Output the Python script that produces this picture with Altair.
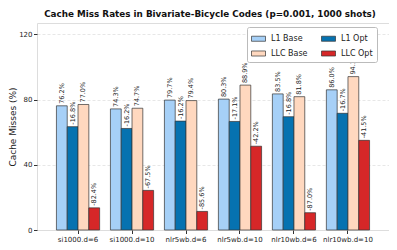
import altair as alt
import pandas as pd

benchmarks = ["si1000,d=6", "si1000,d=10", "nlr5wb,d=6", "nlr5wb,d=10", "nlr10wb,d=6", "nlr10wb,d=10"]
l1_base = [76.2, 74.3, 79.7, 80.3, 83.5, 86.0]
l1_opt = [63.4, 62.3, 66.8, 66.6, 69.5, 71.6]
llc_base = [77.0, 74.7, 79.4, 88.9, 81.8, 94.1]
llc_opt = [13.6, 24.3, 11.4, 51.4, 10.6, 55.0]
l1_change = [-16.8, -16.2, -16.2, -17.1, -16.8, -16.7]
llc_change = [-82.4, -67.5, -85.6, -42.2, -87.0, -41.5]

series_order = ["L1 Base", "L1 Opt", "LLC Base", "LLC Opt"]
legend_order = ["L1 Base", "LLC Base", "L1 Opt", "LLC Opt"]
colors = {"L1 Base": "#a6d0f7", "L1 Opt": "#0672b0", "LLC Base": "#ffd8bf", "LLC Opt": "#d62728"}

rows = []
for i, b in enumerate(benchmarks):
    rows.append({"bench": b, "series": "L1 Base", "value": l1_base[i], "label": f"{l1_base[i]:.1f}%"})
    rows.append({"bench": b, "series": "L1 Opt", "value": l1_opt[i], "label": f"{l1_change[i]:.1f}%"})
    rows.append({"bench": b, "series": "LLC Base", "value": llc_base[i], "label": f"{llc_base[i]:.1f}%"})
    rows.append({"bench": b, "series": "LLC Opt", "value": llc_opt[i], "label": f"{llc_change[i]:.1f}%"})
df = pd.DataFrame(rows)

x = alt.X("bench:N", sort=benchmarks, title=None,
          scale=alt.Scale(paddingInner=0.2, paddingOuter=0.36),
          axis=alt.Axis(labelAngle=0, labelFontSize=7, labelColor="#222", tickSize=3.5,
                        tickColor="#333", domain=False, labelPadding=1.5))
xo = alt.XOffset("series:N", sort=series_order, scale=alt.Scale(domain=series_order))
y = alt.Y("value:Q", title="Cache Misses (%)",
          scale=alt.Scale(domain=[0, 127], nice=False),
          axis=alt.Axis(values=[0, 20, 40, 60, 80, 100, 120], labelFontSize=7, labelColor="#222",
                        labelPadding=1.5,
                        titleFontSize=9, titleFontWeight="normal", titleColor="#222",
                        titlePadding=1, tickSize=3.5, tickColor="#333", domain=False,
                        grid=True, gridDash=[3, 2], gridColor="#dddddd", gridWidth=0.7))

bars = alt.Chart(df).mark_bar(stroke="#333333", strokeWidth=0.7).encode(
    x=x, xOffset=xo, y=y,
    color=alt.Color("series:N",
                    scale=alt.Scale(domain=legend_order, range=[colors[s] for s in legend_order]),
                    legend=alt.Legend(title=None, orient="none", legendX=210, legendY=4,
                                      columns=2, columnPadding=12, rowPadding=3,
                                      labelFontSize=8, labelColor="#222",
                                      symbolType="M-1,-0.36H1V0.36H-1Z", symbolSize=196,
                                      symbolStrokeColor="#333", symbolStrokeWidth=0.7,
                                      fillColor="white", strokeColor="#bbbbbb", padding=4,
                                      cornerRadius=2, labelOffset=5)),
)

labels = alt.Chart(df).mark_text(angle=270, align="left", baseline="middle", dx=2,
                                 fontSize=6.5, color="#222").encode(
    x=alt.X("bench:N", sort=benchmarks), xOffset=xo, y="value:Q", text="label:N"
)

chart = alt.layer(bars, labels).properties(
    width=352, height=207,
    title=alt.TitleParams("Cache Miss Rates in Bivariate-Bicycle Codes (p=0.001, 1000 shots)",
                          fontSize=8.8, fontWeight="bold", color="#111", offset=4, dx=-3),
    autosize=alt.AutoSizeParams(type="none"),
    padding={"left": 29, "top": 15, "right": 0, "bottom": 12},
).configure_view(stroke="#444", strokeWidth=1).configure(font="DejaVu Sans")

chart.save("out.html", embed_options={"renderer": "svg", "actions": False})
